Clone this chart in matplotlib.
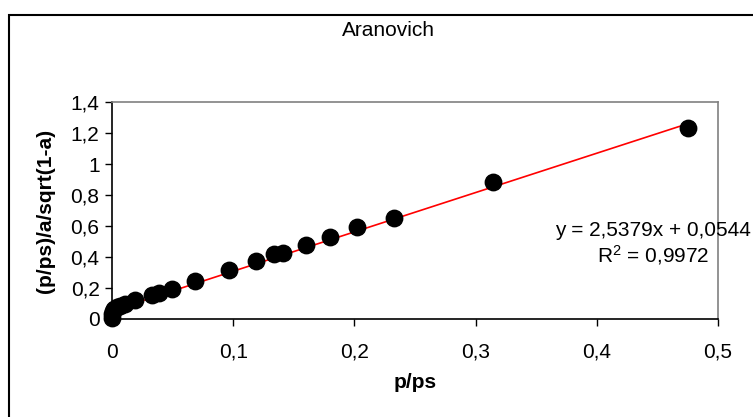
import matplotlib
matplotlib.use('Agg')
import matplotlib.pyplot as plt
from matplotlib.patches import Rectangle
from matplotlib.ticker import FuncFormatter
import numpy as np

plt.rcParams['font.family'] = ['Liberation Sans', 'DejaVu Sans']

# relative pressure and linearised Aranovich ordinate
p_ps = [0.0, 0.0003, 0.001, 0.002, 0.004, 0.007, 0.011, 0.019, 0.033, 0.039,
        0.0495, 0.0685, 0.0965, 0.119, 0.134, 0.141, 0.160, 0.180, 0.202,
        0.2327, 0.3144, 0.475]
aran = [0.005, 0.03, 0.05, 0.065, 0.075, 0.085, 0.10, 0.125, 0.155, 0.17,
        0.193, 0.245, 0.316, 0.374, 0.419, 0.426, 0.477, 0.529, 0.594,
        0.652, 0.884, 1.23]

# linear trendline
slope = 2.5379
intercept = 0.0544
r2 = 0.9972

x_ticks = [0, 0.1, 0.2, 0.3, 0.4, 0.5]
y_ticks = [0, 0.2, 0.4, 0.6, 0.8, 1, 1.2, 1.4]

def comma(v, pos=None):
    s = ('%.1f' % v).rstrip('0').rstrip('.')
    return s.replace('.', ',')

fs = 15

fig = plt.figure(figsize=(7.53, 4.17), dpi=100)
ax = fig.add_axes([112/753, 1 - 319/417, (718-112)/753, (319-102)/417])

xs = np.array([0, max(p_ps)])
ax.plot(xs, slope*xs + intercept, color='red', lw=1.2, zorder=2)
ax.scatter(p_ps, aran, s=140, color='black', zorder=3, clip_on=False)

ax.set_xlim(0, 0.5)
ax.set_ylim(0, 1.4)
ax.set_xticks(x_ticks)
ax.set_yticks(y_ticks)
ax.xaxis.set_major_formatter(FuncFormatter(comma))
ax.yaxis.set_major_formatter(FuncFormatter(comma))
ax.tick_params(direction='out', length=5, width=1, labelsize=fs, pad=4)
ax.tick_params(axis='x', pad=12)

for s in ['left', 'bottom']:
    ax.spines[s].set_color('black')
    ax.spines[s].set_linewidth(1.2)
for s in ['top', 'right']:
    ax.spines[s].set_color('#808080')
    ax.spines[s].set_linewidth(1.2)

ax.set_xlabel('p/ps', fontsize=fs, fontweight='bold', labelpad=8)
ax.set_ylabel('(p/ps)/a/sqrt(1-a)', fontsize=fs, fontweight='bold', labelpad=11)

fig.text(388/753, 1 - 31/417, 'Aranovich', ha='center', va='center', fontsize=fs)
fig.text(653/753, 1 - 244/417,
         'y = %s%s + %s\n$\\mathregular{R^2}$ = %s' % (
             ('%.4f' % slope).replace('.', ','), 'x',
             ('%.4f' % intercept).replace('.', ','),
             ('%.4f' % r2).replace('.', ',')),
         ha='center', va='center', fontsize=fs, linespacing=1.2)

# chart area frame
fig.patches.append(Rectangle((9/753, -0.1), 1.2, 1 - 15/417 + 0.1,
                             transform=fig.transFigure, fill=False,
                             edgecolor='black', lw=1.5))

fig.savefig('out.png', dpi=100)
